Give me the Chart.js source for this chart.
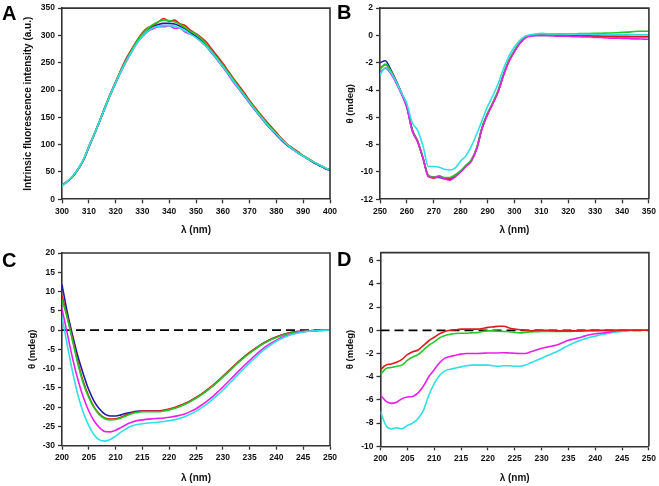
<!DOCTYPE html>
<html>
<head>
<meta charset="utf-8">
<script src="https://cdn.jsdelivr.net/npm/chart.js@4.4.1/dist/chart.umd.min.js"></script>
<style>
html, body { margin: 0; padding: 0; background: #fff; }
#wrap { position: relative; width: 659px; height: 486px; }
#wrap canvas { position: absolute; left: 0; top: 0; }
</style>
</head>
<body>
<div id="wrap">
  <canvas id="pA" width="659" height="486"></canvas>
  <canvas id="pB" width="659" height="486"></canvas>
  <canvas id="pC" width="659" height="486"></canvas>
  <canvas id="pD" width="659" height="486"></canvas>
</div>
<script>
// ---- data ----
// A: intrinsic fluorescence, 300-400 nm every 2 nm
const waveA = [300,302,304,306,308,310,312,314,316,318,320,322,324,326,328,330,332,334,336,338,340,342,344,346,348,350,352,354,356,358,360,362,364,366,368,370,372,374,376,378,380,382,384,386,388,390,392,394,396,398,400];
const aRed     = [25,33,42,55,72,96,119,143,168,192,215,237,258,275,291,305,314,318,325,331,326,328,321,318,309,303,296,287,274,262,249,235,221,208,195,181,168,156,144,133,122,111,101,94,87,80,74,68,63,58,54];
const aGreen   = [25,33,42,55,72,97,118,143,168,192,214,236,255,273,290,303,313,320,325,328,327,325,320,314,307,302,294,283,270,258,246,232,219,205,192,179,166,154,142,131,120,110,100,93,86,80,74,68,63,58,54];
const aBlue    = [25,33,42,55,72,96,119,143,168,192,214,236,255,273,289,300,309,316,320,322,322,321,317,312,305,298,290,280,268,256,244,230,217,203,190,177,164,152,140,129,118,108,99,92,85,79,73,67,62,57,53];
const aMagenta = [25,33,42,55,71,95,118,142,166,190,212,233,252,270,286,298,307,312,316,316,318,313,313,306,302,297,288,279,267,255,242,229,214,202,189,176,163,151,139,128,118,108,99,92,85,79,73,67,62,57,53];
const aCyan    = [24,33,43,56,73,96,119,143,167,191,213,234,253,270,286,299,308,314,317,318,318,317,313,308,302,296,288,279,268,256,243,230,216,203,190,177,164,152,140,129,119,109,100,92,85,79,73,68,63,58,53];

// B: near-UV CD, 250-350 nm every 2 nm
const waveB = [250,252,254,256,258,260,262,264,266,268,270,272,274,276,278,280,282,284,286,288,290,292,294,296,298,300,302,304,306,308,310,312,314,316,318,320,322,324,326,328,330,332,334,336,338,340,342,344,346,348,350];
const bRed     = [-2.4,-2.15,-2.6,-3.4,-4.25,-5.25,-6.95,-7.75,-9.0,-10.3,-10.45,-10.3,-10.45,-10.45,-10.25,-9.95,-9.55,-9.15,-8.25,-6.75,-5.75,-4.95,-4.05,-2.85,-1.85,-1.15,-0.55,-0.15,0,0.05,0.05,0.03,0.02,0,0,-0.02,-0.03,-0.04,-0.05,-0.05,-0.06,-0.07,-0.08,-0.08,-0.09,-0.1,-0.1,-0.1,-0.1,-0.1,-0.1];
const bGreen   = [-2.5,-2.1,-2.6,-3.4,-4.25,-5.25,-6.95,-7.75,-8.95,-10.25,-10.35,-10.3,-10.4,-10.4,-10.2,-9.9,-9.5,-9.1,-8.2,-6.7,-5.7,-4.9,-4.0,-2.8,-1.8,-1.1,-0.5,-0.1,0.03,0.07,0.1,0.1,0.1,0.11,0.12,0.12,0.12,0.13,0.14,0.14,0.15,0.16,0.17,0.18,0.2,0.22,0.24,0.27,0.3,0.3,0.3];
const bBlue    = [-2.0,-1.85,-2.5,-3.3,-4.2,-5.2,-6.9,-7.75,-9.0,-10.3,-10.4,-10.4,-10.5,-10.55,-10.3,-9.95,-9.55,-9.15,-8.25,-6.75,-5.75,-4.95,-4.05,-2.85,-1.85,-1.15,-0.55,-0.15,-0.03,0,0,0,0,-0.02,-0.03,-0.03,-0.04,-0.04,-0.05,-0.05,-0.05,-0.06,-0.06,-0.06,-0.07,-0.07,-0.07,-0.08,-0.08,-0.08,-0.08];
const bMagenta = [-2.7,-2.4,-2.8,-3.5,-4.3,-5.3,-7.0,-7.8,-9.0,-10.35,-10.4,-10.35,-10.5,-10.6,-10.35,-10.0,-9.6,-9.2,-8.3,-6.8,-5.8,-5.0,-4.1,-2.9,-1.9,-1.2,-0.6,-0.2,-0.05,0,0,0,-0.02,-0.05,-0.05,-0.05,-0.1,-0.1,-0.12,-0.12,-0.15,-0.15,-0.18,-0.2,-0.2,-0.22,-0.22,-0.25,-0.25,-0.27,-0.28];
const bCyan    = [-2.9,-2.35,-2.7,-3.4,-4.2,-5.0,-6.4,-6.95,-8.1,-9.6,-9.6,-9.65,-9.8,-9.85,-9.7,-9.2,-8.8,-8.1,-7.2,-6.2,-5.2,-4.4,-3.5,-2.4,-1.5,-0.85,-0.35,-0.05,0.05,0.1,0.15,0.12,0.1,0.1,0.1,0.1,0.1,0.08,0.08,0.08,0.07,0.07,0.06,0.06,0.06,0.05,0.05,0.05,0.05,0.05,0.05];

// C and D: far-UV CD, 200-250 nm every 1 nm
const waveCD = [200,201,202,203,204,205,206,207,208,209,210,211,212,213,214,215,216,217,218,219,220,221,222,223,224,225,226,227,228,229,230,231,232,233,234,235,236,237,238,239,240,241,242,243,244,245,246,247,248,249,250];
const cRed     = [9,3.5,-2.5,-8.5,-13.5,-17.2,-20,-21.8,-22.8,-23.1,-23.0,-22.6,-22.0,-21.5,-21.2,-21.0,-21.0,-21.0,-21.0,-20.8,-20.5,-20.1,-19.6,-19.0,-18.3,-17.5,-16.6,-15.6,-14.5,-13.3,-12.0,-10.7,-9.4,-8.1,-6.9,-5.8,-4.8,-3.9,-3.1,-2.4,-1.8,-1.3,-0.9,-0.6,-0.4,-0.3,-0.2,-0.1,-0.05,0,0];
const cGreen   = [8,3,-3,-9,-14,-17.5,-20.2,-22,-23,-23.3,-23.2,-22.8,-22.2,-21.7,-21.4,-21.2,-21.2,-21.2,-21.2,-21.0,-20.7,-20.3,-19.8,-19.2,-18.5,-17.7,-16.8,-15.8,-14.7,-13.5,-12.2,-10.9,-9.6,-8.3,-7.1,-6.0,-5.0,-4.0,-3.2,-2.5,-1.9,-1.4,-1.0,-0.7,-0.5,-0.35,-0.25,-0.15,-0.1,-0.05,0];
const cBlue    = [11.8,4.5,-1.5,-7,-11.5,-15.5,-18.5,-20.5,-21.8,-22.3,-22.3,-22.0,-21.6,-21.3,-21.1,-21.0,-21.0,-21.0,-21.0,-20.8,-20.6,-20.2,-19.7,-19.1,-18.4,-17.6,-16.7,-15.7,-14.6,-13.4,-12.1,-10.8,-9.5,-8.2,-7.0,-5.9,-4.9,-3.9,-3.1,-2.4,-1.8,-1.3,-0.9,-0.6,-0.4,-0.3,-0.2,-0.1,-0.05,0,0];
const cMagenta = [5.5,-1,-7.5,-13,-17.5,-21,-23.6,-25.3,-26.3,-26.4,-26.0,-25.3,-24.5,-23.9,-23.5,-23.3,-23.1,-23.0,-22.9,-22.8,-22.6,-22.4,-22.1,-21.7,-21.1,-20.4,-19.5,-18.5,-17.4,-16.1,-14.8,-13.4,-12.0,-10.6,-9.2,-7.9,-6.6,-5.4,-4.3,-3.4,-2.6,-1.9,-1.4,-1.0,-0.7,-0.45,-0.3,-0.2,-0.1,-0.05,0];
const cCyan    = [3.5,-4,-11,-17,-21.5,-24.8,-27.2,-28.5,-28.8,-28.4,-27.5,-26.5,-25.6,-24.9,-24.5,-24.3,-24.1,-24.0,-23.9,-23.7,-23.5,-23.3,-22.9,-22.4,-21.8,-21.1,-20.2,-19.2,-18.1,-16.9,-15.6,-14.2,-12.8,-11.3,-9.9,-8.5,-7.2,-5.9,-4.8,-3.8,-2.9,-2.2,-1.6,-1.1,-0.75,-0.5,-0.3,-0.2,-0.1,-0.05,0];
const dRed     = [-3.4,-3.0,-2.9,-2.75,-2.5,-2.1,-1.85,-1.7,-1.3,-0.9,-0.6,-0.3,-0.1,0,0.05,0.1,0.1,0.1,0.1,0.15,0.25,0.3,0.35,0.35,0.2,0.1,0.05,0,-0.05,0,0,0,-0.02,-0.05,-0.05,-0.05,-0.05,-0.03,-0.02,0,0,0,0,0,0,0,0,0,0,0,0];
const dGreen   = [-3.8,-3.3,-3.2,-3.1,-3.0,-2.6,-2.3,-2.1,-1.7,-1.3,-1.0,-0.65,-0.45,-0.35,-0.28,-0.25,-0.25,-0.22,-0.2,-0.1,-0.05,-0.05,-0.08,-0.1,-0.12,-0.18,-0.22,-0.18,-0.14,-0.12,-0.1,-0.1,-0.1,-0.1,-0.1,-0.1,-0.08,-0.08,-0.06,-0.05,-0.05,-0.03,-0.02,0,0,0,0,0,0,0,0];
const dMagenta = [-5.6,-6.1,-6.3,-6.2,-5.9,-5.75,-5.7,-5.4,-4.8,-4.0,-3.4,-2.8,-2.4,-2.25,-2.15,-2.05,-2.0,-2.0,-2.0,-1.98,-1.95,-1.95,-1.95,-1.93,-1.95,-1.98,-2.0,-2.0,-1.85,-1.7,-1.55,-1.45,-1.35,-1.25,-1.05,-0.85,-0.75,-0.65,-0.5,-0.38,-0.3,-0.25,-0.2,-0.12,-0.06,-0.02,0,0,0,0,0];
const dCyan    = [-7.0,-8.2,-8.5,-8.4,-8.5,-8.2,-8.0,-7.6,-6.9,-5.6,-4.6,-3.9,-3.5,-3.35,-3.25,-3.15,-3.05,-3.0,-3.0,-3.0,-3.0,-3.05,-3.1,-3.05,-3.05,-3.1,-3.1,-3.0,-2.8,-2.6,-2.4,-2.2,-2.0,-1.8,-1.55,-1.3,-1.1,-0.9,-0.75,-0.6,-0.5,-0.38,-0.3,-0.2,-0.15,-0.1,-0.05,0,0,0,0];

// zero reference line for C and D
const zeroX = [200, 250];
const zeroY = [0, 0];

// tick labels
const xTicksA = [300,310,320,330,340,350,360,370,380,390,400];
const yTicksA = [0,50,100,150,200,250,300,350];
const xTicksB = [250,260,270,280,290,300,310,320,330,340,350];
const yTicksB = [-12,-10,-8,-6,-4,-2,0,2];
const xTicksCD = [200,205,210,215,220,225,230,235,240,245,250];
const yTicksC = [-30,-25,-20,-15,-10,-5,0,5,10,15,20];
const yTicksD = [-10,-8,-6,-4,-2,0,2,4,6];

// ---- drawing ----
const FONT = '"Liberation Sans", Arial, Helvetica, sans-serif';
const AXIS = '#333';
const COL = { red: '#dd1a1a', green: '#22c922', blue: '#1c1ca8', magenta: '#ec1eec', cyan: '#2ee0e6' };
Chart.defaults.font.family = FONT;

function pts(xs, ys) {
  return xs.map(function (x, i) { return { x: x, y: ys[i] }; });
}
function line(xs, ys, color) {
  return { data: pts(xs, ys), borderColor: color, borderWidth: 1.6, pointRadius: 0,
           cubicInterpolationMode: 'monotone', fill: false };
}
function dashed(xs, ys) {
  return { data: pts(xs, ys), borderColor: '#000', borderWidth: 1.8, borderDash: [9, 5],
           pointRadius: 0, fill: false };
}

const framePlugin = {
  id: 'frame',
  afterDraw: function (chart, args, opts) {
    const a = chart.chartArea, ctx = chart.ctx;
    ctx.save();
    ctx.strokeStyle = AXIS;
    ctx.lineWidth = 1.6;
    ctx.beginPath();
    ctx.moveTo(a.left, a.top);
    ctx.lineTo(a.right, a.top);
    ctx.lineTo(a.right, a.bottom);
    ctx.stroke();
    ctx.fillStyle = '#000';
    ctx.font = 'bold 20px ' + FONT;
    ctx.textBaseline = 'alphabetic';
    ctx.fillText(opts.letter, opts.lx, opts.ly);
    ctx.restore();
  }
};

function axis(min, max, ticks, title, titleSize, fixedSize, horizontal) {
  return {
    type: 'linear', min: min, max: max,
    afterBuildTicks: function (s) { s.ticks = ticks.map(function (v) { return { value: v }; }); },
    afterFit: function (s) { if (horizontal) s.height = fixedSize; else s.width = fixedSize; },
    grid: { drawOnChartArea: false, drawTicks: true, tickLength: 4, tickColor: AXIS, tickWidth: 1.3 },
    border: { color: AXIS, width: 1.6 },
    ticks: { color: '#111', padding: 3, autoSkip: false, maxRotation: 0,
             font: { size: 8.5, weight: 'bold' },
             callback: function (v) { return String(v); } },
    title: { display: true, text: title, color: '#111', padding: 0,
             font: { size: titleSize, weight: 'bold', lineHeight: 1.2 } }
  };
}

function panel(id, box, xr, yr, datasets, frame) {
  const yLH = box.yTitleSize * 1.2, xLH = 10 * 1.2;
  const yLeft = box.yTitleX - yLH / 2;
  const xBottom = box.xTitleY + xLH / 2;
  new Chart(document.getElementById(id), {
    type: 'line',
    data: { datasets: datasets },
    options: {
      responsive: false, animation: false, events: [],
      layout: { padding: { left: yLeft, top: box.top, right: 659 - box.right, bottom: 486 - xBottom } },
      plugins: { legend: { display: false }, tooltip: { enabled: false }, frame: frame },
      scales: {
        x: axis(xr[0], xr[1], xr[2], 'λ (nm)', 10, xBottom - box.bottom, true),
        y: axis(yr[0], yr[1], yr[2], box.yTitle, box.yTitleSize, box.left - yLeft, false)
      }
    },
    plugins: [framePlugin]
  });
}

panel('pA',
  { left: 62, right: 330, top: 5.7, bottom: 199.3, yTitleX: 28, xTitleY: 230,
    yTitle: 'Intrinsic fluorescence intensity (a.u.)', yTitleSize: 10 },
  [300, 400, xTicksA], [0, 350, yTicksA],
  [line(waveA, aCyan, COL.cyan), line(waveA, aGreen, COL.green), line(waveA, aRed, COL.red),
   line(waveA, aBlue, COL.blue), line(waveA, aMagenta, COL.magenta)],
  { letter: 'A', lx: 2, ly: 19.5 });

panel('pB',
  { left: 380, right: 649, top: 5.7, bottom: 199.3, yTitleX: 350, xTitleY: 230,
    yTitle: 'θ (mdeg)', yTitleSize: 9.5 },
  [250, 350, xTicksB], [-12, 2, yTicksB],
  [line(waveB, bCyan, COL.cyan), line(waveB, bMagenta, COL.magenta), line(waveB, bGreen, COL.green),
   line(waveB, bRed, COL.red), line(waveB, bBlue, COL.blue)],
  { letter: 'B', lx: 337, ly: 18.5 });

panel('pC',
  { left: 62, right: 330, top: 253, bottom: 445.7, yTitleX: 32, xTitleY: 478,
    yTitle: 'θ (mdeg)', yTitleSize: 9.5 },
  [200, 250, xTicksCD], [-30, 20, yTicksC],
  [line(waveCD, cCyan, COL.cyan), line(waveCD, cMagenta, COL.magenta), line(waveCD, cGreen, COL.green),
   line(waveCD, cRed, COL.red), line(waveCD, cBlue, COL.blue), dashed(zeroX, zeroY)],
  { letter: 'C', lx: 2, ly: 267 });

panel('pD',
  { left: 380.5, right: 649, top: 252.6, bottom: 446.3, yTitleX: 350, xTitleY: 478,
    yTitle: 'θ (mdeg)', yTitleSize: 9.5 },
  [200, 250, xTicksCD], [-10, 6.7, yTicksD],
  [line(waveCD, dRed, COL.red), line(waveCD, dGreen, COL.green), line(waveCD, dMagenta, COL.magenta),
   line(waveCD, dCyan, COL.cyan), dashed(zeroX, zeroY)],
  { letter: 'D', lx: 337, ly: 266 });
</script>
</body>
</html>
